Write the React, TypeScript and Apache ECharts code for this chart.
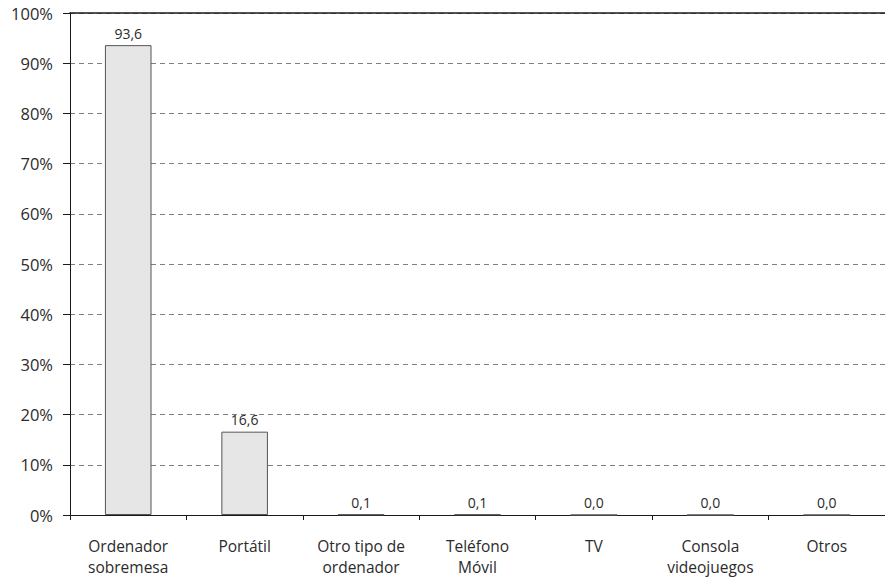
import React, { useEffect, useRef } from "react";
import * as echarts from "echarts";

const categories = [
  "Ordenador\nsobremesa",
  "Portátil",
  "Otro tipo de\nordenador",
  "Teléfono\nMóvil",
  "TV",
  "Consola\nvideojuegos",
  "Otros",
];
const values = [93.6, 16.6, 0.1, 0.1, 0.0, 0.0, 0.0];
const yTicks = [0, 10, 20, 30, 40, 50, 60, 70, 80, 90, 100];

const FONT = "'Open Sans', 'Noto Sans', sans-serif";

export default function App() {
  const ref = useRef<HTMLDivElement>(null);
  useEffect(() => {
    document.body.style.margin = "0";
    if (!ref.current) return;
    const chart = echarts.init(ref.current, null, { renderer: "svg" });
    chart.setOption({
      animation: false,
      backgroundColor: "#ffffff",
      grid: { left: 70, top: 13, width: 827, height: 502, containLabel: false },
      xAxis: [
        {
          type: "category",
          data: categories,
          axisLine: { show: true, lineStyle: { color: "#1a1a1a", width: 1 } },
          axisTick: { show: true, length: 5, alignWithLabel: false, lineStyle: { color: "#1a1a1a" } },
          axisLabel: {
            color: "#2b2b2b",
            fontFamily: FONT,
            fontSize: 15.5,
            lineHeight: 21,
            margin: 20,
            interval: 0,
          },
        },
        {
          type: "category",
          position: "top",
          data: categories,
          axisLine: { show: true, lineStyle: { color: "#1a1a1a", width: 1.5 } },
          axisTick: { show: false },
          axisLabel: { show: false },
        },
      ],
      yAxis: {
        type: "value",
        min: yTicks[0],
        max: yTicks[yTicks.length - 1],
        interval: 10,
        axisLine: { show: true, lineStyle: { color: "#1a1a1a", width: 1 } },
        axisTick: { show: true, length: 7, lineStyle: { color: "#1a1a1a" } },
        axisLabel: {
          color: "#2b2b2b",
          fontFamily: FONT,
          fontSize: 16.5,
          margin: 17,
          formatter: (v: number) => `${v}%`,
        },
        splitLine: {
          show: true,
          lineStyle: { color: "#808080", type: [5, 4], width: 1 },
        },
      },
      series: [
        {
          type: "bar",
          data: values,
          barWidth: "40%",
          itemStyle: { color: "#e6e6e6", borderColor: "#555555", borderWidth: 1 },
          label: {
            show: true,
            position: "top",
            distance: 5,
            color: "#2b2b2b",
            fontFamily: FONT,
            fontSize: 14,
            formatter: (p: any) => p.value.toFixed(1).replace(".", ","),
          },
        },
      ],
    });
    return () => chart.dispose();
  }, []);
  return <div ref={ref} style={{ width: 885, height: 577 }} />;
}
